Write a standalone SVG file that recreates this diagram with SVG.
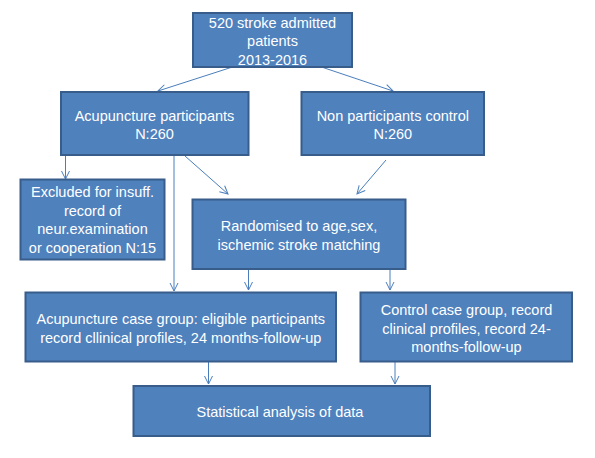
<svg xmlns="http://www.w3.org/2000/svg" width="595" height="458" viewBox="0 0 595 458">
<defs>
<marker id="arr" viewBox="0 0 10 10" refX="9" refY="5" markerWidth="10" markerHeight="10" markerUnits="userSpaceOnUse" orient="auto">
<path d="M1,1 L9,5 L1,9" fill="none" stroke="#4A7EBB" stroke-width="1"/>
</marker>
<style>
.box{fill:#4F81BD;stroke:#385D8A;stroke-width:2}
.t{font-family:"Liberation Sans",Arial,sans-serif;font-size:14.5px;fill:#FFFFFF;text-anchor:middle}
.c{stroke:#4A7EBB;stroke-width:1;fill:none;marker-end:url(#arr)}
</style>
</defs>
<rect width="595" height="458" fill="#FFFFFF"/>
<g id="connectors">
<line class="c" x1="232.5" y1="67" x2="158" y2="91"/>
<line class="c" x1="321.5" y1="67" x2="393" y2="91"/>
<line class="c" x1="65.5" y1="155" x2="65.5" y2="179"/>
<line class="c" x1="174" y1="155" x2="174" y2="291"/>
<line class="c" x1="185" y1="156" x2="228" y2="194"/>
<line class="c" x1="386" y1="160" x2="357" y2="194"/>
<line class="c" x1="248.5" y1="269" x2="248.5" y2="290"/>
<line class="c" x1="390" y1="269" x2="390" y2="290"/>
<line class="c" x1="208.5" y1="362" x2="208.5" y2="384"/>
<line class="c" x1="395" y1="362" x2="395" y2="384"/>
</g>
<g id="n_top">
<rect class="box" x="193" y="13" width="159" height="54"/>
<text class="t" x="272.5" y="27.5">520 stroke admitted</text>
<text class="t" x="272.5" y="46">patients</text>
<text class="t" x="272.5" y="64.5">2013-2016</text>
</g>
<g id="n_acu">
<rect class="box" x="61" y="92" width="187.5" height="63"/>
<text class="t" x="154.5" y="120.5">Acupuncture participants</text>
<text class="t" x="154.5" y="139">N:260</text>
</g>
<g id="n_non">
<rect class="box" x="301.5" y="92" width="182.5" height="63"/>
<text class="t" x="392.8" y="120.5">Non participants control</text>
<text class="t" x="392.8" y="139">N:260</text>
</g>
<g id="n_excl">
<rect class="box" x="20.5" y="179.5" width="144" height="80"/>
<text class="t" x="92.5" y="197">Excluded for insuff.</text>
<text class="t" x="92.5" y="215.5">record of</text>
<text class="t" x="92.5" y="234">neur.examination</text>
<text class="t" x="92.5" y="252.5">or cooperation N:15</text>
</g>
<g id="n_rand">
<rect class="box" x="192.5" y="199.5" width="213" height="69.5"/>
<text class="t" x="299" y="230.5">Randomised to age,sex,</text>
<text class="t" x="299" y="249.5">ischemic stroke matching</text>
</g>
<g id="n_acucase">
<rect class="box" x="25.5" y="292.5" width="310.5" height="69"/>
<text class="t" x="180.8" y="324">Acupuncture case group: eligible participants</text>
<text class="t" x="180.8" y="343">record cllinical profiles, 24 months-follow-up</text>
</g>
<g id="n_ctrl">
<rect class="box" x="360.5" y="292.5" width="211.5" height="69"/>
<text class="t" x="466.5" y="314.5">Control case group, record</text>
<text class="t" x="466.5" y="333.5">clinical profiles, record 24-</text>
<text class="t" x="466.5" y="352">months-follow-up</text>
</g>
<g id="n_stat">
<rect class="box" x="133.5" y="386" width="296.5" height="50"/>
<text class="t" x="280" y="416.5">Statistical analysis of data</text>
</g>
</svg>
